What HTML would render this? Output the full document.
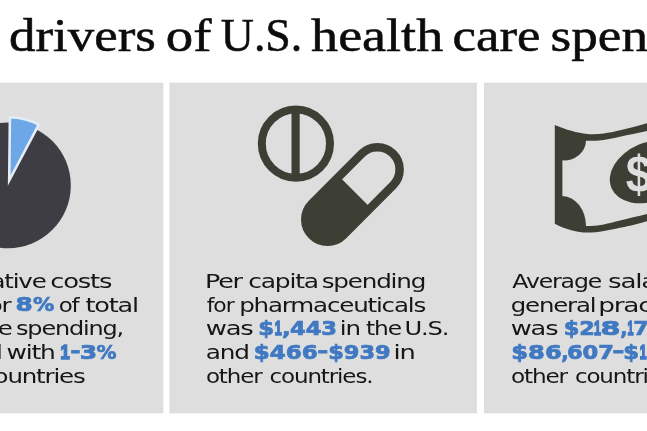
<!DOCTYPE html>
<html lang="en">
<head>
<meta charset="utf-8">
<title>Key drivers of U.S. health care spending</title>
<style>
html,body{margin:0;padding:0;background:#fff;}
body{width:647px;height:431px;overflow:hidden;position:relative;}
#stage{position:absolute;left:0;top:0;width:647px;height:431px;overflow:hidden;background:#fff;}
h1{position:absolute;margin:0;left:0;top:0;width:647px;height:47px;font-family:"Liberation Serif",serif;font-weight:400;font-size:0;line-height:47px;color:#0c0c0c;white-space:nowrap;}
h1 span{display:inline-block;width:0;font-size:47px;vertical-align:baseline;white-space:nowrap;transform-origin:0 0;-webkit-text-stroke:0.55px #0c0c0c;}
.t{position:absolute;left:0;top:0;width:647px;height:24px;margin:0;font-family:"DejaVu Sans","Liberation Sans",sans-serif;font-size:0;line-height:24px;color:#161616;white-space:nowrap;}
.t > span,.t > b{display:inline-block;width:0;vertical-align:baseline;white-space:nowrap;transform-origin:0 0;}
.t > span{font-size:20.6px;letter-spacing:-1px;}
.t > b{font-weight:700;font-size:21.2px;letter-spacing:0;color:#4079c2;-webkit-text-stroke:0.8px #4079c2;}
.t > b.n{font-family:"Liberation Sans",sans-serif;-webkit-text-stroke:1.8px #4079c2;}
svg{position:absolute;left:0;top:0;}
</style>
</head>
<body>
<div id="stage">
<h1><span style="transform:translate(-89px,11.8px) scaleX(1.13)">Key</span> <span style="transform:translate(9.0px,11.8px) scaleX(1.125)">drivers</span> <span style="transform:translate(165.8px,11.8px) scaleX(1.165)">of</span> <span style="transform:translate(220.8px,11.8px) scaleX(0.975)">U.S.</span> <span style="transform:translate(311.1px,11.8px) scaleX(1.15)">health</span> <span style="transform:translate(452.5px,11.8px) scaleX(1.125)">care</span> <span style="transform:translate(550.6px,11.8px) scaleX(1.13)">spending</span></h1>

<svg width="647" height="431" viewBox="0 0 647 431">
  <!-- panels -->
  <rect x="-144.2" y="82.6" width="307.5" height="330.8" fill="#dedede"/>
  <rect x="169.4" y="82.6" width="307.5" height="330.8" fill="#dedede"/>
  <rect x="484" y="82.6" width="307.5" height="330.8" fill="#dedede"/>
  <!-- pie -->
  <circle cx="8" cy="185.4" r="62.8" fill="#3e3d43"/>
  <path d="M9.2 180.5 L9.9 117.3 A66 66 0 0 1 38.7 124.7 Z" fill="#6ea7e8" stroke="#e4edf6" stroke-width="2.6" stroke-linejoin="miter" stroke-miterlimit="10"/>
  <!-- tablet -->
  <circle cx="295.9" cy="143.6" r="34.1" fill="none" stroke="#3d3e34" stroke-width="8"/>
  <rect x="291.5" y="110" width="8.2" height="68" fill="#3d3e34"/>
  <!-- capsule -->
  <g transform="translate(352.45 194.5) rotate(-45)">
    <rect x="-57.5" y="-22.25" width="115" height="44.5" rx="22.25" ry="22.25" fill="none" stroke="#3d3e34" stroke-width="8.5"/>
    <path d="M3.4 -23.5 L-35.25 -23.5 A23.5 23.5 0 0 0 -35.25 23.5 L3.4 23.5 Z" fill="#3d3e34"/>
  </g>
  <!-- money -->
  <path d="M554.8 124.9 C561 127.5 566 129.2 571.4 130.8 C577 132.5 582 133.6 587.6 134 C593 134.4 598 134.2 603.8 133.5 C609 132.8 614 131.8 620 130.3 C626 128.8 631 127.4 636.3 126.2 C640 125.3 643 124.4 647 123.3 L700 112 L700 210 L647 221.3 C643 222.4 640 223.2 636 224.2 C631 225.4 626 226.5 620 227.8 C614 229.2 609 230.3 603.8 231 C598 231.9 593 232.6 587.6 232.6 C582 232.6 577 231.6 571.4 230.2 C566 228.9 561 226.8 554.8 223.7 Z" fill="#3d3e34"/>
  <path d="M562.4 160.3 A21.5 20 0 0 0 586 140.8 C592 141 598 140.7 603.8 140 C609 139.3 614 138.2 620 136.8 C628 135 638 133 647 131.1 L700 120 L700 203 L647 214 C638 216.2 628 218.6 620 220.5 C614 222 609 223.4 603.8 224.5 C598 225.5 592 226.1 586 226.1 A24 30 0 0 0 562.4 196.1 Z" fill="#dedede"/>
  <ellipse cx="649.5" cy="171.85" rx="41.4" ry="29.2" transform="rotate(-23.5 649.5 171.85)" fill="#3d3e34"/>
  <text transform="translate(638.9 173.1) scale(1 1.12)" x="0" y="16.5" text-anchor="middle" font-family="Liberation Sans, sans-serif" font-weight="700" font-size="47" fill="#dedede">$</text>
</svg>

<div class="t" style="top:268px"><span style="transform:translate(-116.2px,1.56px) scale(1.190,0.960)">Administrative</span> <span style="transform:translate(50.3px,1.56px) scale(1.255,0.960)">costs</span></div>
<div class="t" style="top:292px"><span style="transform:translate(-144.6px,1.26px) scale(1.190,0.960)">accounted</span> <span style="transform:translate(-19.7px,1.26px) scale(1.190,0.960)">for</span> <b style="transform:translate(15.5px,0.80px) scale(1.169,0.935)">8</b><b style="transform:translate(33.1px,0.80px) scale(1.000,0.935)">%</b> <span style="transform:translate(58.7px,1.26px) scale(1.111,0.960)">of</span> <span style="transform:translate(85.6px,1.26px) scale(1.239,0.960)">total</span></div>
<div class="t" style="top:316px"><span style="transform:translate(-115.2px,1.06px) scale(1.190,0.960)">health</span> <span style="transform:translate(-36.8px,1.06px) scale(1.190,0.960)">care</span> <span style="transform:translate(16.0px,1.06px) scale(1.164,0.960)">spending,</span></div>
<div class="t" style="top:339px"><span style="transform:translate(-112.0px,1.76px) scale(1.190,0.960)">compared</span> <span style="transform:translate(6.6px,1.76px) scale(1.211,0.960)">with</span> <b class="n" style="transform:translate(60.5px,1.80px) scale(0.775,0.935)">1</b><b style="transform:translate(70.4px,0.47px) scale(0.933,0.975)">–</b><b style="transform:translate(79.7px,1.80px) scale(1.183,0.935)">3</b><b style="transform:translate(96.4px,1.80px) scale(0.943,0.935)">%</b></div>
<div class="t" style="top:363px"><span style="transform:translate(-114.0px,1.46px) scale(1.190,0.960)">in</span> <span style="transform:translate(-86.7px,1.46px) scale(1.190,0.960)">other</span> <span style="transform:translate(-18.7px,1.46px) scale(1.190,0.960)">countries</span></div>
<div class="t" style="top:268px"><span style="transform:translate(205.0px,1.56px) scale(1.231,0.960)">Per</span> <span style="transform:translate(248.2px,1.56px) scale(1.213,0.960)">capita</span> <span style="transform:translate(321.7px,1.56px) scale(1.196,0.960)">spending</span></div>
<div class="t" style="top:292px"><span style="transform:translate(206.7px,1.26px) scale(1.062,0.960)">for</span> <span style="transform:translate(239.2px,1.26px) scale(1.193,0.960)">pharmaceuticals</span></div>
<div class="t" style="top:316px"><span style="transform:translate(205.7px,1.06px) scale(1.258,0.960)">was</span> <b style="transform:translate(258.2px,1.10px) scale(1.069,0.935)">$</b><b class="n" style="transform:translate(274.7px,1.10px) scale(0.583,0.935)">1</b><b style="transform:translate(282.1px,1.10px) scale(1.080,0.935)">,</b><b style="transform:translate(289.9px,1.10px) scale(1.067,0.935)">443</b> <span style="transform:translate(339.8px,1.06px) scale(1.193,0.960)">in</span> <span style="transform:translate(366.0px,1.06px) scale(1.135,0.960)">the</span> <span style="transform:translate(404.4px,1.06px) scale(1.176,0.960)">U.S.</span></div>
<div class="t" style="top:339px"><span style="transform:translate(205.8px,1.76px) scale(1.200,0.960)">and</span> <b style="transform:translate(253.8px,1.80px) scale(1.084,0.935)">$466</b><b style="transform:translate(317.6px,0.47px) scale(1.000,0.975)">–</b><b style="transform:translate(328.2px,1.80px) scale(1.061,0.935)">$939</b> <span style="transform:translate(393.5px,1.76px) scale(1.250,0.960)">in</span></div>
<div class="t" style="top:363px"><span style="transform:translate(205.9px,1.46px) scale(1.116,0.960)">other</span> <span style="transform:translate(269.5px,1.46px) scale(1.116,0.960)">countries.</span></div>
<div class="t" style="top:268px"><span style="transform:translate(512.3px,1.56px) scale(1.145,0.960)">Average</span> <span style="transform:translate(608.1px,1.56px) scale(1.270,0.960)">salary</span> <span style="transform:translate(700.0px,1.56px) scale(1.190,0.960)">for</span></div>
<div class="t" style="top:292px"><span style="transform:translate(510.7px,1.26px) scale(1.187,0.960)">general</span> <span style="transform:translate(598.3px,1.26px) scale(1.280,0.960)">practitioners</span></div>
<div class="t" style="top:316px"><span style="transform:translate(510.8px,1.06px) scale(1.250,0.960)">was</span> <b style="transform:translate(563.7px,1.10px) scale(1.059,0.935)">$2</b><b class="n" style="transform:translate(594.0px,1.10px) scale(0.583,0.935)">1</b><b style="transform:translate(600.6px,1.10px) scale(1.354,0.935)">8</b><b style="transform:translate(620.3px,1.10px) scale(0.920,0.935)">,</b><b class="n" style="transform:translate(627.4px,1.10px) scale(0.508,0.935)">1</b><b style="transform:translate(633.3px,1.10px) scale(1.040,0.935)">73</b> <span style="transform:translate(673.6px,1.06px) scale(1.190,0.960)">in</span> <span style="transform:translate(697.6px,1.06px) scale(1.190,0.960)">U.S.,</span></div>
<div class="t" style="top:339px"><b style="transform:translate(511.3px,1.80px) scale(1.140,0.935)">$86</b><b style="transform:translate(561.3px,1.80px) scale(0.920,0.935)">,</b><b style="transform:translate(566.9px,1.80px) scale(1.064,0.935)">607</b><b style="transform:translate(612.4px,0.47px) scale(1.111,0.975)">–</b><b style="transform:translate(623.2px,1.80px) scale(1.069,0.935)">$</b><b class="n" style="transform:translate(639.7px,1.80px) scale(0.575,0.935)">1</b><b style="transform:translate(647.0px,1.80px) scale(1.040,0.935)">54,126</b> <span style="transform:translate(739.6px,1.76px) scale(1.190,0.960)">in</span></div>
<div class="t" style="top:363px"><span style="transform:translate(510.9px,1.46px) scale(1.124,0.960)">other</span> <span style="transform:translate(574.9px,1.46px) scale(1.116,0.960)">countries.</span></div>
</div>
</body>
</html>
